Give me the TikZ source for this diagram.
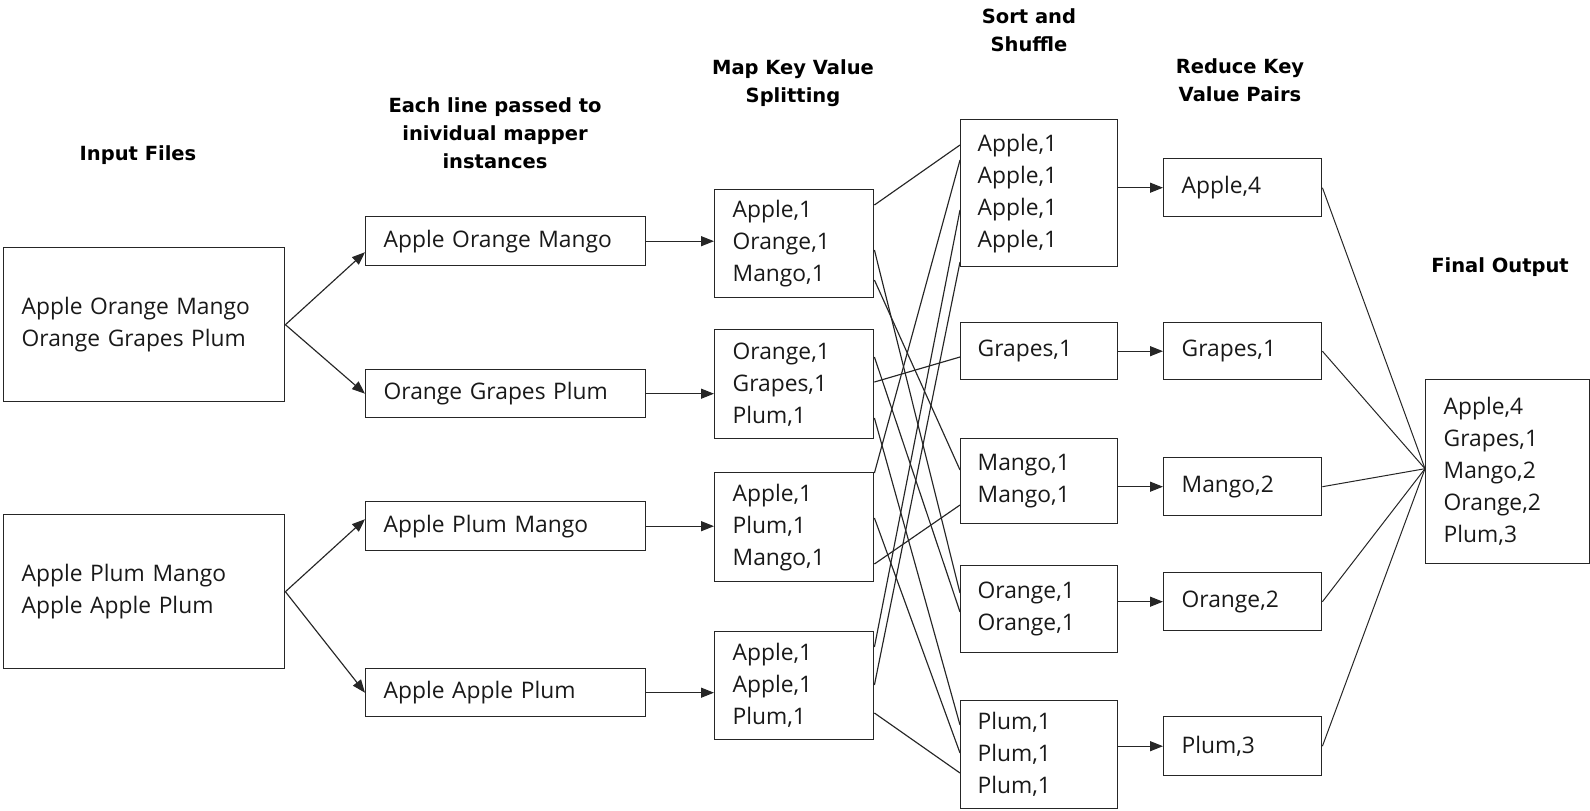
\documentclass[tikz,border=0pt]{standalone}
\usepackage{fontspec}
\setmainfont{Open Sans}
\newfontfamily\headfont{DejaVu Sans}
\usetikzlibrary{arrows.meta,calc}
\begin{document}
\begin{tikzpicture}[x=1pt,y=-1pt,
  mybox/.style={draw=black!85, line width=1.4pt, anchor=north west,
    inner xsep=18pt, inner ysep=0pt, align=left,
    font=\fontsize{22.8}{32}\selectfont, text=black!90},
  head/.style={font=\headfont\bfseries\fontsize{19.5}{28}\selectfont,
    align=center, text=black},
  link/.style={draw=black!85, line width=1.15pt},
  arr/.style={link, -{Triangle[length=13pt,width=10pt]}}]
\useasboundingbox (0,0) rectangle (1590,811);

% column headings
\node[head] (hin)  at (138,155) {Input Files};
\node[head] (hsp)  at (495,133) {Each line passed to\\inividual mapper\\instances};
\node[head] (hmap) at (793,83)  {Map Key Value\\Splitting};
\node[head] (hsrt) at (1029,30) {Sort and\\Shuffle};
\node[head] (hred) at (1240,80) {Reduce Key\\Value Pairs};
\node[head] (hout) at (1500,267) {Final Output};

% input files
\node[mybox, minimum width=281pt, minimum height=154pt, text width=245pt] (i1) at (3,247)
  {Apple Orange Mango\\Orange Grapes Plum};
\node[mybox, minimum width=281pt, minimum height=154pt, text width=245pt] (i2) at (3,514)
  {Apple Plum Mango\\Apple Apple Plum};

% single lines
\node[mybox, minimum width=280pt, minimum height=49pt, text width=244pt] (l1) at (365,216) {Apple Orange Mango};
\node[mybox, minimum width=280pt, minimum height=48pt, text width=244pt] (l2) at (365,369) {Orange Grapes Plum};
\node[mybox, minimum width=280pt, minimum height=49pt, text width=244pt] (l3) at (365,501) {Apple Plum Mango};
\node[mybox, minimum width=280pt, minimum height=48pt, text width=244pt] (l4) at (365,668) {Apple Apple Plum};

% map output
\node[mybox, minimum width=159pt, minimum height=108pt, text width=123pt] (m1) at (714,189) {Apple,1\\Orange,1\\Mango,1};
\node[mybox, minimum width=159pt, minimum height=109pt, text width=123pt] (m2) at (714,329) {Orange,1\\Grapes,1\\Plum,1};
\node[mybox, minimum width=159pt, minimum height=109pt, text width=123pt] (m3) at (714,472) {Apple,1\\Plum,1\\Mango,1};
\node[mybox, minimum width=159pt, minimum height=108pt, text width=123pt] (m4) at (714,631) {Apple,1\\Apple,1\\Plum,1};

% sort and shuffle
\node[mybox, minimum width=157pt, minimum height=147pt, text width=123pt, inner xsep=17pt] (s1) at (960,119) {Apple,1\\Apple,1\\Apple,1\\Apple,1};
\node[mybox, minimum width=157pt, minimum height=57pt,  text width=123pt, inner xsep=17pt] (s2) at (960,322) {Grapes,1};
\node[mybox, minimum width=157pt, minimum height=85pt,  text width=123pt, inner xsep=17pt] (s3) at (960,438) {Mango,1\\Mango,1};
\node[mybox, minimum width=157pt, minimum height=87pt,  text width=123pt, inner xsep=17pt] (s4) at (960,565) {Orange,1\\Orange,1};
\node[mybox, minimum width=157pt, minimum height=108pt, text width=123pt, inner xsep=17pt] (s5) at (960,700) {Plum,1\\Plum,1\\Plum,1};

% reduce
\node[mybox, minimum width=158pt, minimum height=58pt, text width=122pt] (r1) at (1163,158) {Apple,4};
\node[mybox, minimum width=158pt, minimum height=57pt, text width=122pt] (r2) at (1163,322) {Grapes,1};
\node[mybox, minimum width=158pt, minimum height=58pt, text width=122pt] (r3) at (1163,457) {Mango,2};
\node[mybox, minimum width=158pt, minimum height=58pt, text width=122pt] (r4) at (1163,572) {Orange,2};
\node[mybox, minimum width=158pt, minimum height=59pt, text width=122pt] (r5) at (1163,716) {Plum,3};

% final output
\node[mybox, minimum width=164pt, minimum height=184pt, text width=128pt] (f) at (1425,379)
  {Apple,4\\Grapes,1\\Mango,2\\Orange,2\\Plum,3};

% split input into lines
\draw[arr] (i1.east) -- ([yshift=-11pt]l1.west);
\draw[arr] (i1.east) -- (l2.west);
\draw[arr] (i2.east) -- ([yshift=7pt]l3.west);
\draw[arr] (i2.east) -- (l4.west);

% lines into mappers
\draw[arr] (l1.east) -- (l1.east -| m1.west);
\draw[arr] (l2.east) -- (l2.east -| m2.west);
\draw[arr] (l3.east) -- (l3.east -| m3.west);
\draw[arr] (l4.east) -- (l4.east -| m4.west);

% shuffle: each key/value pair goes to its key's group
\draw[link] ([yshift=-16pt]m1.north east) -- ([yshift=-26pt]s1.north west);
\draw[link] ([yshift=-61pt]m1.north east) -- ([yshift=-28pt]s4.north west);
\draw[link] ([yshift=-91pt]m1.north east) -- ([yshift=-32pt]s3.north west);
\draw[link] ([yshift=-28pt]m2.north east) -- ([yshift=-47pt]s4.north west);
\draw[link] ([yshift=-53pt]m2.north east) -- ([yshift=-35pt]s2.north west);
\draw[link] ([yshift=-89pt]m2.north east) -- ([yshift=-25pt]s5.north west);
\draw[link] ([yshift=-1pt]m3.north east)  -- ([yshift=-41pt]s1.north west);
\draw[link] ([yshift=-46pt]m3.north east) -- ([yshift=-53pt]s5.north west);
\draw[link] ([yshift=-92pt]m3.north east) -- ([yshift=-67pt]s3.north west);
\draw[link] ([yshift=-16pt]m4.north east) -- ([yshift=-91pt]s1.north west);
\draw[link] ([yshift=-54pt]m4.north east) -- ([yshift=-143pt]s1.north west);
\draw[link] ([yshift=-82pt]m4.north east) -- ([yshift=-73pt]s5.north west);

% groups into reducers
\draw[arr] (s1.east |- r1.west) -- (r1.west);
\draw[arr] (s2.east |- r2.west) -- (r2.west);
\draw[arr] (s3.east |- r3.west) -- (r3.west);
\draw[arr] (s4.east |- r4.west) -- (r4.west);
\draw[arr] (s5.east |- r5.west) -- (r5.west);

% reducers into final output
\foreach \r in {r1,r2,r3,r4,r5}
  \draw[link, line width=1pt] (\r.east) -- ([yshift=3pt]f.west);
\end{tikzpicture}
\end{document}
